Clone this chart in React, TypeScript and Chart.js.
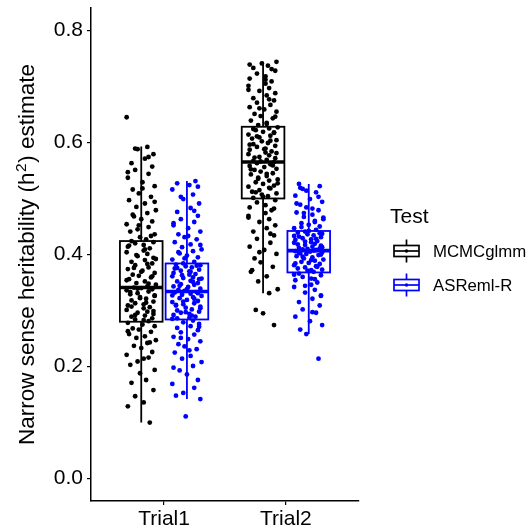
import React, { useEffect, useRef } from "react";
import { Chart, registerables } from "chart.js";

Chart.register(...registerables);

const CATEGORIES = ["Trial1", "Trial2"];
const SERIES = ["MCMCglmm", "ASReml-R"];
const COLORS = ["#000000", "#0000FF"];
const Y_TICKS = [0, 0.2, 0.4, 0.6, 0.8];

// Box statistics per series: [Trial1, Trial2]
const MCMC_LOW = [0.1, 0.331];
const MCMC_Q1 = [0.28, 0.5];
const MCMC_MED = [0.341, 0.565];
const MCMC_Q3 = [0.424, 0.628];
const MCMC_HIGH = [0.593, 0.744];

const ASR_LOW = [0.142, 0.258];
const ASR_Q1 = [0.284, 0.368];
const ASR_MED = [0.334, 0.407];
const ASR_Q3 = [0.384, 0.442];
const ASR_HIGH = [0.531, 0.526];

// Individual estimates
const T1_MCMC = [
  0.1, 0.129, 0.136, 0.147, 0.158, 0.171, 0.176, 0.188, 0.194, 0.203, 0.209, 0.216, 0.221, 0.226, 0.233, 0.237,
  0.242, 0.247, 0.251, 0.254, 0.258, 0.262, 0.266, 0.268, 0.272, 0.275, 0.278,
  0.281, 0.284, 0.286, 0.289, 0.291, 0.294, 0.296, 0.298, 0.301, 0.304, 0.306, 0.309, 0.311, 0.313, 0.316,
  0.318, 0.321, 0.324, 0.326, 0.329, 0.331, 0.334, 0.336, 0.338, 0.34, 0.341, 0.343,
  0.346, 0.349, 0.352, 0.356, 0.359, 0.362, 0.364, 0.367, 0.371, 0.374, 0.377, 0.381, 0.384, 0.387, 0.39,
  0.394, 0.397, 0.401, 0.404, 0.407, 0.411, 0.414, 0.417, 0.42, 0.422, 0.424,
  0.427, 0.431, 0.436, 0.441, 0.445, 0.449, 0.454, 0.459, 0.463, 0.468, 0.474, 0.479, 0.485, 0.491, 0.497,
  0.503, 0.509, 0.516, 0.522, 0.529, 0.537, 0.544, 0.551, 0.557, 0.563, 0.571, 0.579, 0.588, 0.592, 0.645,
  0.214, 0.243, 0.263, 0.283, 0.292, 0.299, 0.307, 0.314, 0.322, 0.327, 0.333, 0.339, 0.348, 0.354, 0.361,
  0.369, 0.376, 0.383, 0.392, 0.399, 0.409, 0.416, 0.433, 0.452, 0.471, 0.494, 0.518, 0.547, 0.574, 0.589,
];
const T1_ASR = [
  0.111, 0.142, 0.148, 0.153, 0.162, 0.169, 0.176, 0.186, 0.193, 0.201, 0.208, 0.214, 0.219, 0.225, 0.231,
  0.236, 0.24, 0.245, 0.249, 0.253, 0.257, 0.261, 0.265, 0.269, 0.272, 0.276, 0.279, 0.282,
  0.285, 0.287, 0.289, 0.292, 0.294, 0.296, 0.298, 0.3, 0.302, 0.305, 0.307, 0.309, 0.311, 0.313, 0.315,
  0.317, 0.319, 0.322, 0.324, 0.326, 0.328, 0.33, 0.332, 0.333, 0.335,
  0.337, 0.339, 0.342, 0.343, 0.346, 0.347, 0.349, 0.352, 0.353, 0.356, 0.358, 0.359, 0.361, 0.364, 0.365,
  0.367, 0.37, 0.371, 0.373, 0.376, 0.377, 0.379, 0.381, 0.382, 0.384,
  0.387, 0.391, 0.395, 0.398, 0.402, 0.406, 0.409, 0.413, 0.418, 0.422, 0.427, 0.431, 0.436, 0.441, 0.447,
  0.452, 0.458, 0.463, 0.469, 0.476, 0.483, 0.491, 0.499, 0.507, 0.516, 0.524, 0.531,
  0.198, 0.229, 0.251, 0.271, 0.286, 0.291, 0.297, 0.304, 0.31, 0.316, 0.321, 0.327, 0.331, 0.338, 0.344,
  0.351, 0.357, 0.363, 0.369, 0.375, 0.38, 0.393, 0.404, 0.417, 0.433, 0.456, 0.478, 0.503, 0.521, 0.527,
];
const T2_MCMC = [
  0.274, 0.295, 0.301, 0.331, 0.338, 0.352, 0.361, 0.369, 0.378, 0.386, 0.393, 0.401, 0.408, 0.414, 0.421,
  0.428, 0.434, 0.441, 0.447, 0.452, 0.458, 0.463, 0.469, 0.474, 0.479, 0.484, 0.488, 0.493, 0.497,
  0.501, 0.504, 0.507, 0.509, 0.512, 0.515, 0.518, 0.521, 0.523, 0.526, 0.529, 0.532, 0.534, 0.537, 0.54,
  0.543, 0.545, 0.548, 0.551, 0.553, 0.556, 0.558, 0.561, 0.563, 0.565,
  0.567, 0.569, 0.572, 0.574, 0.577, 0.579, 0.582, 0.584, 0.587, 0.589, 0.592, 0.594, 0.597, 0.599, 0.602,
  0.604, 0.607, 0.609, 0.612, 0.614, 0.617, 0.619, 0.622, 0.625, 0.627,
  0.631, 0.635, 0.639, 0.643, 0.647, 0.651, 0.655, 0.659, 0.663, 0.667, 0.671, 0.675, 0.679, 0.684, 0.688,
  0.692, 0.697, 0.701, 0.705, 0.709, 0.714, 0.718, 0.723, 0.728, 0.733, 0.737, 0.741, 0.744,
  0.372, 0.404, 0.437, 0.466, 0.482, 0.503, 0.511, 0.519, 0.527, 0.535, 0.544, 0.552, 0.559, 0.566, 0.573,
  0.581, 0.588, 0.596, 0.603, 0.611, 0.618, 0.624, 0.633, 0.646, 0.661, 0.677, 0.694, 0.712, 0.731, 0.739,
];
const T2_ASR = [
  0.214, 0.258, 0.266, 0.274, 0.281, 0.289, 0.296, 0.302, 0.309, 0.315, 0.321, 0.327, 0.332, 0.337, 0.342,
  0.346, 0.35, 0.354, 0.357, 0.36, 0.363, 0.366,
  0.369, 0.371, 0.373, 0.375, 0.377, 0.379, 0.381, 0.383, 0.385, 0.387, 0.389, 0.391, 0.393, 0.395, 0.397,
  0.399, 0.401, 0.402, 0.404, 0.405, 0.406,
  0.408, 0.409, 0.411, 0.412, 0.414, 0.416, 0.417, 0.419, 0.421, 0.422, 0.424, 0.426, 0.427, 0.429, 0.431,
  0.432, 0.434, 0.436, 0.437, 0.439, 0.441,
  0.444, 0.447, 0.45, 0.453, 0.456, 0.46, 0.463, 0.467, 0.471, 0.475, 0.479, 0.484, 0.489, 0.494, 0.499,
  0.505, 0.511, 0.517, 0.522, 0.526,
  0.297, 0.326, 0.344, 0.356, 0.364, 0.372, 0.378, 0.384, 0.39, 0.396, 0.4, 0.403, 0.407, 0.41, 0.413,
  0.418, 0.423, 0.428, 0.433, 0.438, 0.442, 0.449, 0.458, 0.466, 0.474, 0.482, 0.491, 0.503, 0.514, 0.519,
];

// Horizontal jitter offsets (category units)
const JITTER = [
  0.07, -0.11, 0.02, -0.05, 0.1, -0.08, 0.04, -0.01, 0.11, -0.09, -0.03, 0.06, -0.12, 0.09, 0.0, -0.06, 0.05,
  0.12, -0.04, 0.03, -0.1, 0.08, -0.02, -0.07, 0.11, 0.01, -0.11, 0.06, -0.05, 0.09, -0.08, 0.03, 0.1, -0.03,
  0.05, -0.12, 0.02,
];

const DODGE = [-0.1875, 0.1875];
const BOX_HALF = 0.175;
const FONT = "'Liberation Sans', Arial, Helvetica, sans-serif";

function pts(values: number[], cat: number, s: number, shift: number) {
  return values.map((v, i) => ({
    x: cat + 1 + DODGE[s] + JITTER[(i + shift) % JITTER.length],
    y: v,
  }));
}

export default function App() {
  const ref = useRef<HTMLCanvasElement | null>(null);

  useEffect(() => {
    if (!ref.current) return;
    const boxes = [
      { low: MCMC_LOW, q1: MCMC_Q1, med: MCMC_MED, q3: MCMC_Q3, high: MCMC_HIGH },
      { low: ASR_LOW, q1: ASR_Q1, med: ASR_MED, q3: ASR_Q3, high: ASR_HIGH },
    ];

    const boxPlugin = {
      id: "boxes",
      beforeDatasetsDraw(chart: any) {
        const { ctx, scales } = chart;
        const xs = scales.x;
        const ys = scales.y;
        ctx.save();
        boxes.forEach((b, s) => {
          CATEGORIES.forEach((_, c) => {
            const cx = xs.getPixelForValue(c + 1 + DODGE[s]);
            const l = xs.getPixelForValue(c + 1 + DODGE[s] - BOX_HALF);
            const r = xs.getPixelForValue(c + 1 + DODGE[s] + BOX_HALF);
            const yLow = ys.getPixelForValue(b.low[c]);
            const yQ1 = ys.getPixelForValue(b.q1[c]);
            const yMed = ys.getPixelForValue(b.med[c]);
            const yQ3 = ys.getPixelForValue(b.q3[c]);
            const yHigh = ys.getPixelForValue(b.high[c]);
            ctx.strokeStyle = COLORS[s];
            ctx.lineWidth = 1.8;
            ctx.beginPath();
            ctx.moveTo(cx, yHigh);
            ctx.lineTo(cx, yQ3);
            ctx.moveTo(cx, yQ1);
            ctx.lineTo(cx, yLow);
            ctx.stroke();
            ctx.fillStyle = "#ffffff";
            ctx.fillRect(l, yQ3, r - l, yQ1 - yQ3);
            ctx.strokeRect(l, yQ3, r - l, yQ1 - yQ3);
            ctx.lineWidth = 3.6;
            ctx.beginPath();
            ctx.moveTo(l, yMed);
            ctx.lineTo(r, yMed);
            ctx.stroke();
          });
        });
        ctx.restore();
      },
      afterDraw(chart: any) {
        const { ctx, chartArea } = chart;
        ctx.save();
        // Y axis title with superscript
        const cy = (chartArea.top + chartArea.bottom) / 2;
        ctx.translate(34, cy);
        ctx.rotate(-Math.PI / 2);
        ctx.fillStyle = "#000";
        ctx.textBaseline = "alphabetic";
        ctx.textAlign = "left";
        const main = "22.5px " + FONT;
        const sup = "15.5px " + FONT;
        const p1 = "Narrow sense heritability (h";
        const p2 = "2";
        const p3 = ") estimate";
        ctx.font = main;
        const w1 = ctx.measureText(p1).width;
        const w3 = ctx.measureText(p3).width;
        ctx.font = sup;
        const w2 = ctx.measureText(p2).width;
        const total = w1 + w2 + w3 + 1;
        let x0 = -total / 2;
        ctx.font = main;
        ctx.fillText(p1, x0, 0);
        x0 += w1 + 0.5;
        ctx.font = sup;
        ctx.fillText(p2, x0, -8.5);
        x0 += w2 + 0.5;
        ctx.font = main;
        ctx.fillText(p3, x0, 0);
        ctx.restore();

        // Legend
        ctx.save();
        ctx.fillStyle = "#000";
        ctx.textBaseline = "middle";
        ctx.textAlign = "left";
        ctx.font = "21px " + FONT;
        ctx.fillText("Test", 390, 217);
        const keyX = 406.5;
        const keyYs = [251, 285];
        SERIES.forEach((name, s) => {
          const ky = keyYs[s];
          ctx.strokeStyle = COLORS[s];
          ctx.fillStyle = COLORS[s];
          ctx.lineWidth = 1.7;
          ctx.beginPath();
          ctx.moveTo(keyX, ky - 11.5);
          ctx.lineTo(keyX, ky - 5.5);
          ctx.moveTo(keyX, ky + 5.5);
          ctx.lineTo(keyX, ky + 11.5);
          ctx.stroke();
          ctx.strokeRect(keyX - 12.5, ky - 5.5, 25, 11);
          ctx.beginPath();
          ctx.moveTo(keyX - 12.5, ky);
          ctx.lineTo(keyX + 12.5, ky);
          ctx.stroke();
          ctx.beginPath();
          ctx.arc(keyX, ky, 1.8, 0, Math.PI * 2);
          ctx.fill();
          ctx.fillStyle = "#000";
          ctx.font = "16.8px " + FONT;
          ctx.fillText(name, 433, ky + 1);
        });
        ctx.restore();
      },
    };

    const chart = new Chart(ref.current, {
      type: "scatter",
      data: {
        datasets: [
          {
            label: SERIES[0],
            data: [...pts(T1_MCMC, 0, 0, 0), ...pts(T2_MCMC, 1, 0, 13)],
            backgroundColor: COLORS[0],
            borderWidth: 0,
            pointRadius: 2.4,
          },
          {
            label: SERIES[1],
            data: [...pts(T1_ASR, 0, 1, 7), ...pts(T2_ASR, 1, 1, 21)],
            backgroundColor: COLORS[1],
            borderWidth: 0,
            pointRadius: 2.4,
          },
        ],
      },
      options: {
        animation: false,
        responsive: false,
        events: [],
        layout: { padding: { left: 0, right: 169, top: 8, bottom: 0 } },
        plugins: { legend: { display: false }, tooltip: { enabled: false } },
        scales: {
          x: {
            type: "linear",
            min: 0.4,
            max: 2.6,
            afterBuildTicks: (scale: any) => {
              scale.ticks = CATEGORIES.map((_, i) => ({ value: i + 1 }));
            },
            afterFit: (scale: any) => {
              scale.height = 30;
              scale.paddingLeft = 0;
              scale.paddingRight = 0;
            },
            ticks: {
              callback: (v: any) => CATEGORIES[Math.round(Number(v)) - 1] ?? "",
              color: "#000",
              font: { family: FONT, size: 21 },
              padding: 2,
              maxRotation: 0,
            },
            grid: { drawOnChartArea: false, drawTicks: true, tickLength: 4, color: "#000", lineWidth: 1.2 },
            border: { display: true, color: "#000", width: 1.5 },
          },
          y: {
            type: "linear",
            min: -0.04,
            max: 0.84,
            afterBuildTicks: (scale: any) => {
              scale.ticks = Y_TICKS.map((v) => ({ value: v }));
            },
            afterFit: (scale: any) => {
              scale.width = 91;
              scale.paddingTop = 0;
              scale.paddingBottom = 0;
            },
            ticks: {
              callback: (v: any) => Number(v).toFixed(1),
              color: "#000",
              font: { family: FONT, size: 21 },
              padding: 4,
            },
            grid: { drawOnChartArea: false, drawTicks: true, tickLength: 4, color: "#000", lineWidth: 1.2 },
            border: { display: true, color: "#000", width: 1.5 },
          },
        },
      },
      plugins: [boxPlugin],
    });
    return () => chart.destroy();
  }, []);

  return (
    <div style={{ position: "fixed", left: 0, top: 0, width: 528, height: 531, background: "#fff" }}>
      <canvas ref={ref} width={528} height={531} style={{ width: 528, height: 531 }} />
    </div>
  );
}
